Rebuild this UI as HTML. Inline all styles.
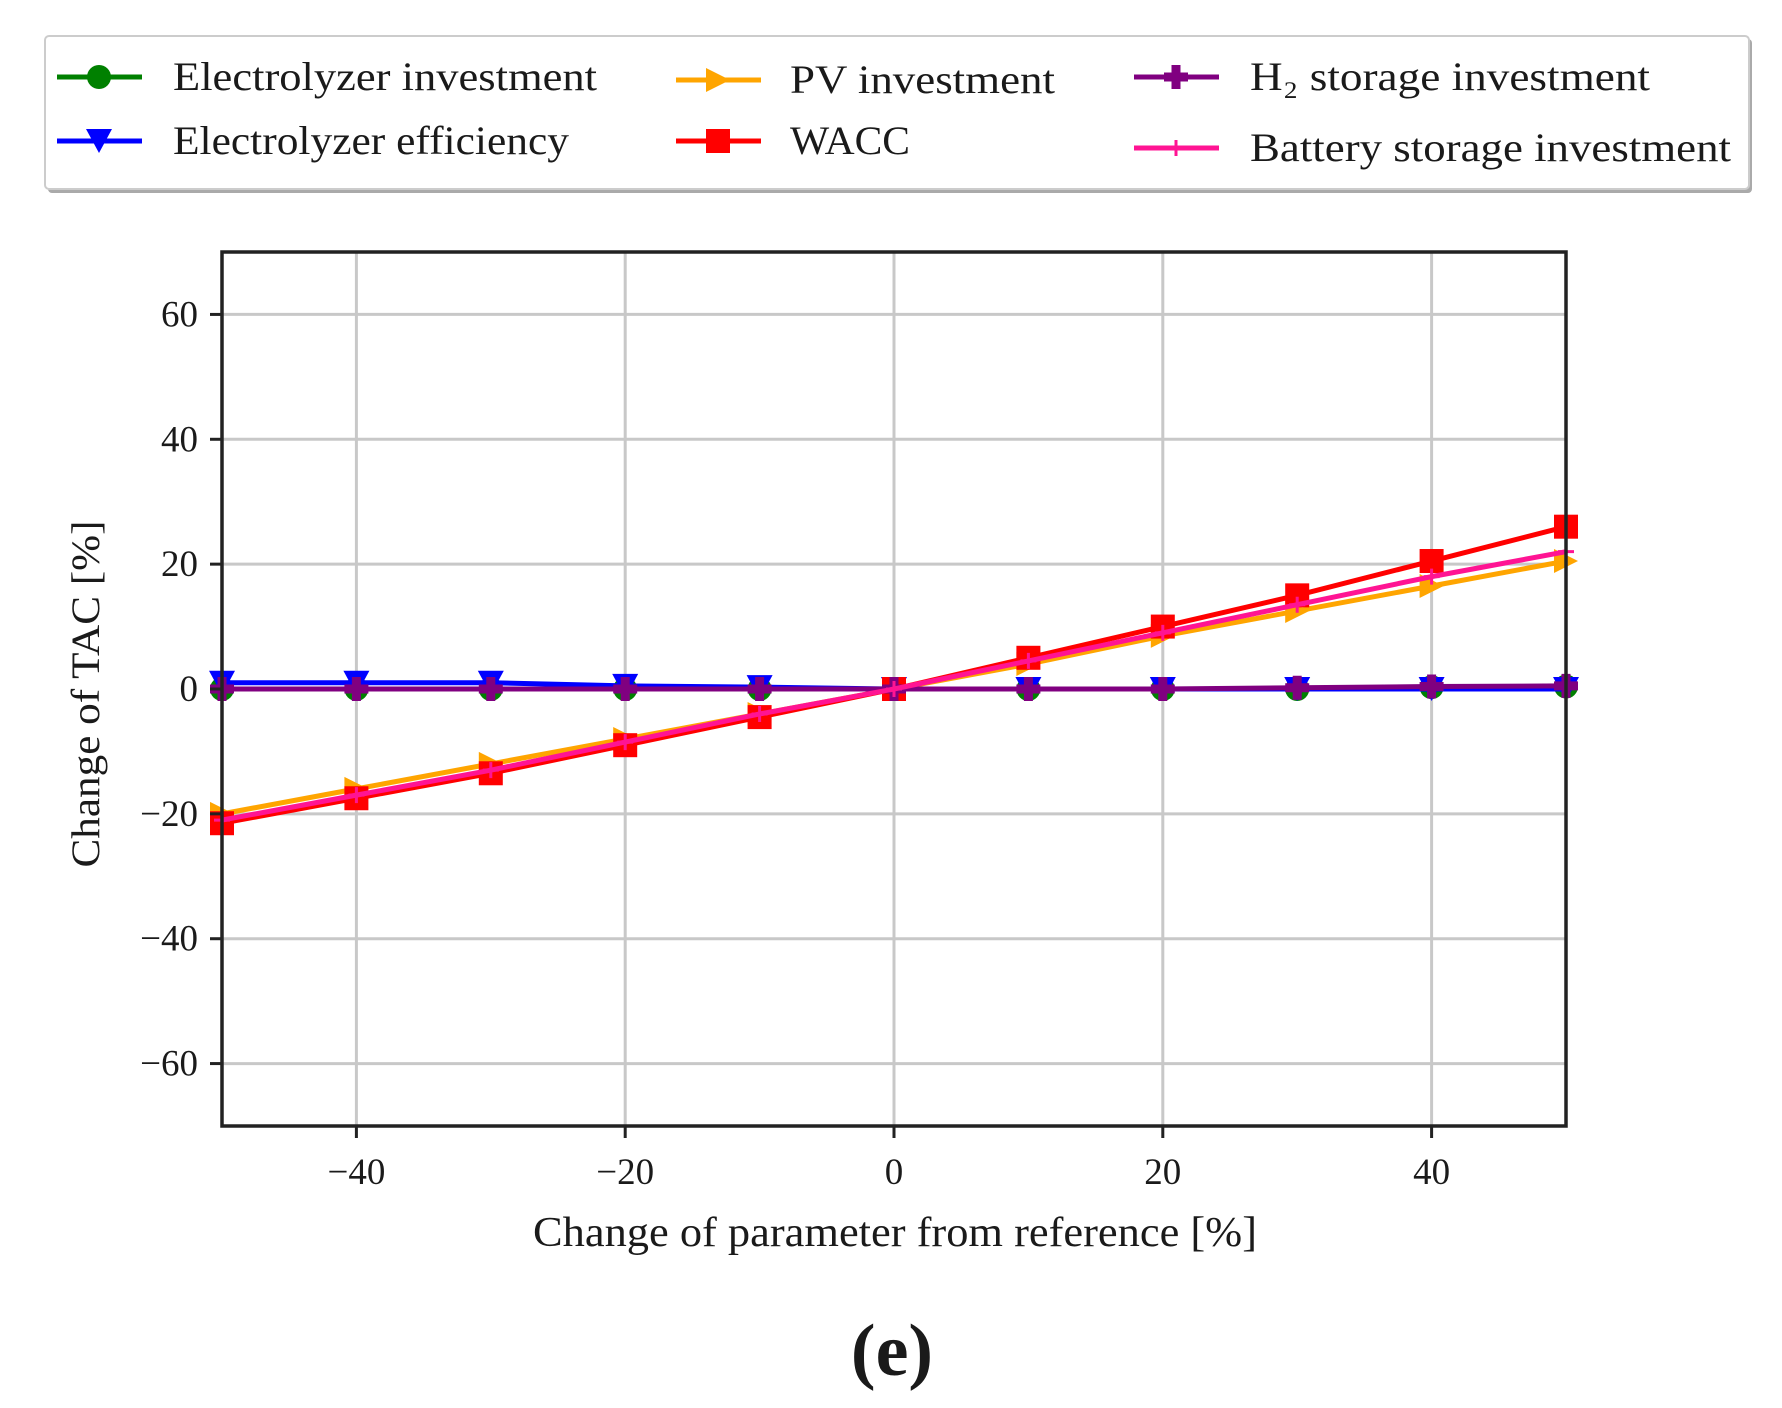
<!DOCTYPE html>
<html><head><meta charset="utf-8"><style>
html,body{margin:0;padding:0;background:#fff;}
svg{display:block;}
text{font-family:"Liberation Serif",serif;fill:#1a1a1a;}
</style></head><body>
<svg id="chart" width="1782" height="1408" viewBox="0 0 1782 1408">
<g id="legend">
<rect x="48" y="39" width="1704" height="154" fill="#aaa" rx="4"/>
<rect x="45" y="36" width="1704" height="153" fill="#fff" stroke="#ccc" stroke-width="2" rx="4"/>
</g>
<g id="grid"></g>
<g id="series"></g>
<rect x="222" y="252" width="1344" height="874" fill="none" stroke="#222" stroke-width="3.5"/>
<g id="ticks"></g>
<text x="895" y="1246" font-size="42" text-anchor="middle" textLength="724" lengthAdjust="spacingAndGlyphs">Change of parameter from reference [%]</text>
<text transform="translate(99,694) rotate(-90)" font-size="40" text-anchor="middle" textLength="347" lengthAdjust="spacingAndGlyphs">Change of TAC [%]</text>
<text x="892" y="1375" font-size="74" font-weight="bold" text-anchor="middle">(e)</text>
</svg>
<script>
const xValues = [-50,-40,-30,-20,-10,0,10,20,30,40,50];
const elecInvest = [0,0,0,0,0,0,0,0,0,0.3,0.4];
const elecEff = [1,1,1,0.5,0.3,0,0,0,0,0,0];
const pvInvest = [-20,-16,-12,-8,-4,0,4,8.5,12.5,16.5,20.5];
const wacc = [-21.5,-17.5,-13.5,-9,-4.5,0,5,10,15,20.5,26];
const h2Invest = [0,0,0,0,0,0,0,0,0.2,0.4,0.5];
const batteryInvest = [-21,-17,-13,-8.5,-4,0,4.5,9,13.5,18,22];
const xTicks = [-40,-20,0,20,40];
const yTicks = [-60,-40,-20,0,20,40,60];
const legendLabels = ["Electrolyzer investment","Electrolyzer efficiency","PV investment","WACC","H\u2082 storage investment","Battery storage investment"];

const NS="http://www.w3.org/2000/svg";
const L=222,R=1566,T=252,B=1126;
const xs=v=>L+(v+50)/100*(R-L);
const ys=v=>B-(v+70)/140*(B-T);
function mk(tag,attrs,parent){const e=document.createElementNS(NS,tag);for(const k in attrs)e.setAttribute(k,attrs[k]);parent.appendChild(e);return e;}
const grid=document.getElementById('grid'),ticks=document.getElementById('ticks'),ser=document.getElementById('series'),leg=document.getElementById('legend');

xTicks.forEach(t=>{
  const g=mk('line',{x1:xs(t),x2:xs(t),y1:T,y2:B,stroke:'#c8c8c8','stroke-width':3},grid);
  
  
  const tk=mk('line',{x1:xs(t),x2:xs(t),y1:B,y2:B+12,stroke:'#222','stroke-width':3},ticks);
  
  
  const tx=mk('text',{x:xs(t),y:B+58,'font-size':37,'text-anchor':'middle'},ticks);
  tx.textContent=t<0?'\u2212'+(-t):String(t);
  
  
});
yTicks.forEach(t=>{
  const g=mk('line',{x1:L,x2:R,y1:ys(t),y2:ys(t),stroke:'#c8c8c8','stroke-width':3},grid);
  
  
  const tk=mk('line',{x1:L-12,x2:L,y1:ys(t),y2:ys(t),stroke:'#222','stroke-width':3},ticks);
  
  
  const tx=mk('text',{x:L-24,y:ys(t)+12,'font-size':37,'text-anchor':'end'},ticks);
  tx.textContent=t<0?'\u2212'+(-t):String(t);
  
  
});

function marker(type,cx,cy,color,parent){
  const s=12;let e;
  if(type==='circle')e=mk('circle',{cx:cx,cy:cy,r:s},parent);
  else if(type==='tri-down')e=mk('polygon',{points:`${cx-s-1},${cy-s} ${cx+s+1},${cy-s} ${cx},${cy+s}`},parent);
  else if(type==='tri-right')e=mk('polygon',{points:`${cx-s},${cy-s} ${cx+s},${cy} ${cx-s},${cy+s}`},parent);
  else if(type==='square')e=mk('rect',{x:cx-s,y:cy-s,width:2*s,height:2*s},parent);
  else if(type==='plus')e=mk('path',{d:`M${cx-s},${cy}H${cx+s}M${cx},${cy-s}V${cy+s}`,stroke:color,'stroke-width':9},parent);
  else e=mk('path',{d:`M${cx-8},${cy}H${cx+8}M${cx},${cy-8}V${cy+8}`,stroke:color,'stroke-width':3},parent);
  e.setAttribute('fill',color);
  return e;
}
const defs=[
 {d:elecInvest,c:'#008000',m:'circle',name:'electrolyzer-investment'},
 {d:elecEff,c:'#0000ff',m:'tri-down',name:'electrolyzer-efficiency'},
 {d:pvInvest,c:'#ffa500',m:'tri-right',name:'pv-investment'},
 {d:wacc,c:'#ff0000',m:'square',name:'wacc'},
 {d:h2Invest,c:'#800080',m:'plus',name:'h2-storage-investment'},
 {d:batteryInvest,c:'#ff1493',m:'thin',name:'battery-storage-investment'}
];
defs.forEach(s=>{
  const g=mk('g',{},ser);
  
  
  const p=mk('polyline',{points:s.d.map((v,i)=>xs(xValues[i])+','+ys(v)).join(' '),fill:'none',stroke:s.c,'stroke-width':5},g);
  
  
  s.d.forEach((v,i)=>{
    const m=marker(s.m,xs(xValues[i]),ys(v),s.c,g);
    
    
  });
});
const legPos=[[57,173,77],[57,173,141],[676,790,80],[676,790,141],[1134,1250,77],[1134,1250,148]];
const legW=[424,396,265,120,400,481];
defs.forEach((s,i)=>{
  const [lx,tx,ly]=legPos[i];
  const g=mk('g',{},leg);
  
  
  mk('line',{x1:lx,x2:lx+85,y1:ly,y2:ly,stroke:s.c,'stroke-width':5},g);
  marker(s.m,lx+42,ly,s.c,g);
  const t=mk('text',{x:tx,y:ly+13,'font-size':40,textLength:legW[i],lengthAdjust:'spacingAndGlyphs'},g);
  t.textContent=legendLabels[i];
  
  
});
</script>
</body></html>
